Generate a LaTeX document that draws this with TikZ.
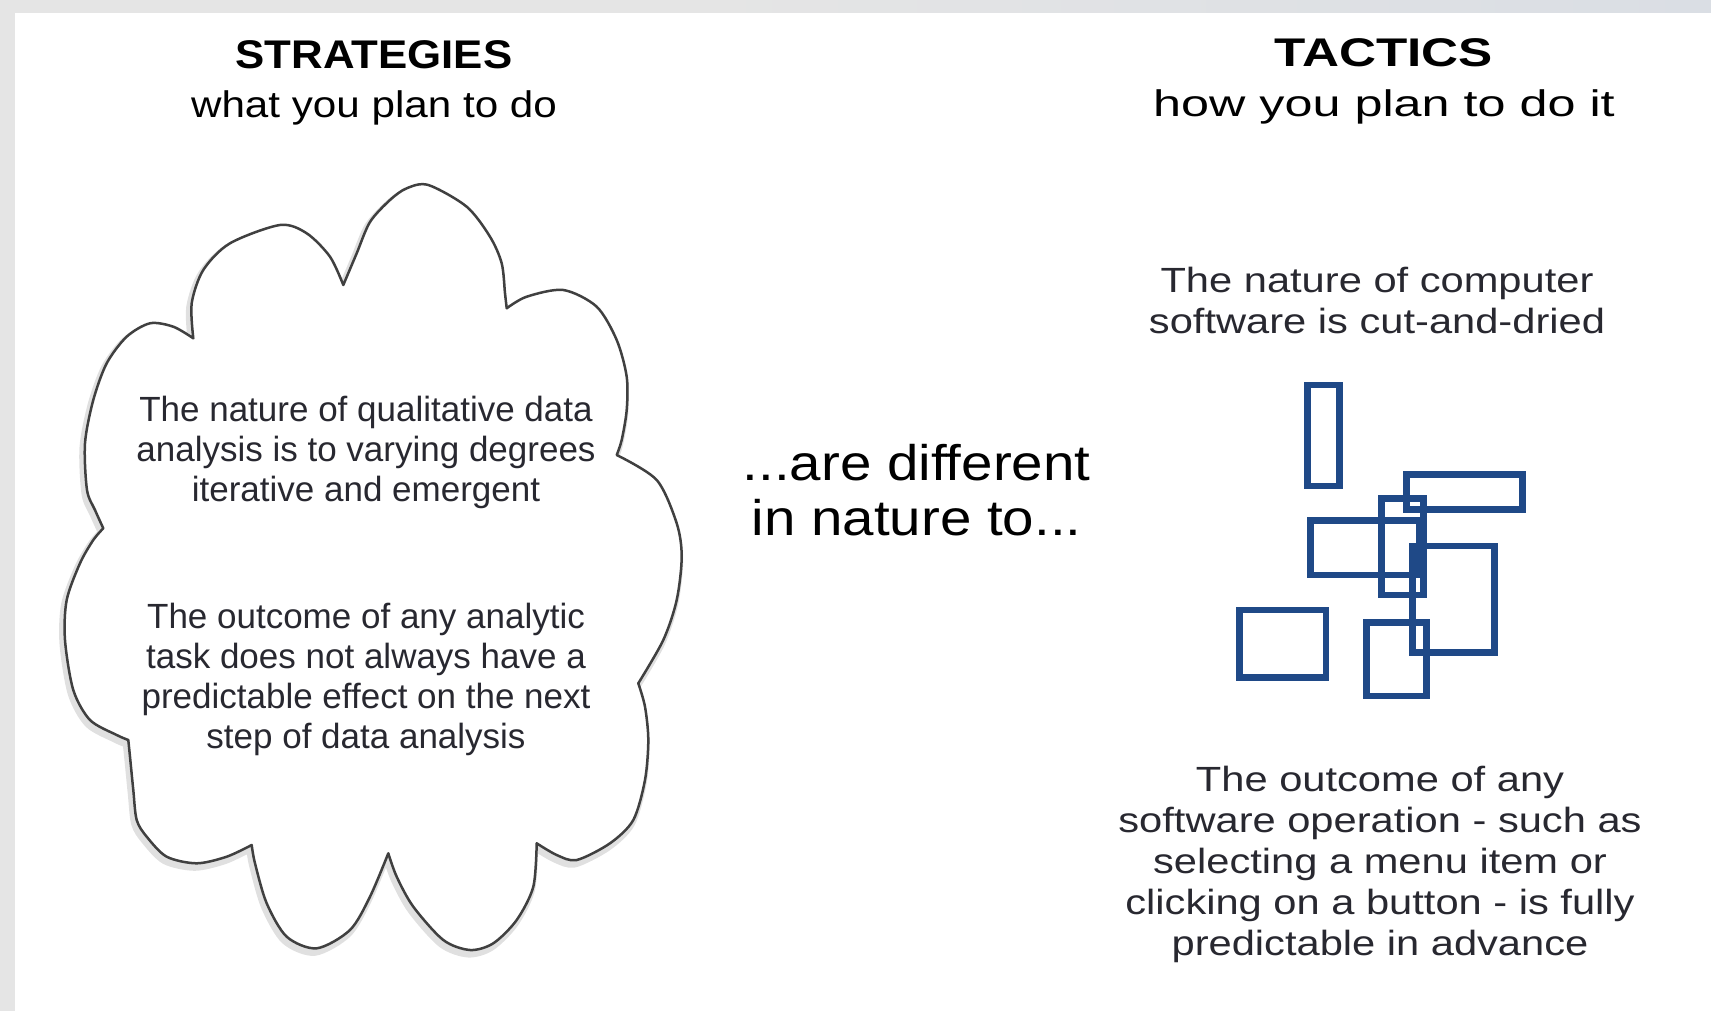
\documentclass[tikz,border=0pt]{standalone}
\usepackage{fontspec}
\setmainfont{Liberation Sans}
\usepackage{graphicx}
\definecolor{rectblue}{RGB}{31,73,135}
\definecolor{txtgray}{RGB}{40,40,48}
\definecolor{bandgray}{RGB}{229,229,229}
\definecolor{bandpeach}{RGB}{242,226,210}
\definecolor{bandblue}{RGB}{218,222,228}
\newcommand{\txtblk}[2]{\scalebox{#1}[1]{\begin{tabular}[t]{@{}c@{}}#2\end{tabular}}}
\newcommand{\cloudpath}{
  plot[smooth] coordinates {(193.3,338.3) (191.7,303.3) (203.3,270) (230,243.3) (280,225) (306.7,233.3) (330,256.7) (343.3,285)}
  -- plot[smooth] coordinates {(343.3,285) (356.7,253.3) (370,222) (390,200) (406.7,188.3) (428.3,185) (466.7,206.7) (490,236.7) (501.7,263.3) (505,293.3) (506.7,308.3)}
  -- plot[smooth] coordinates {(506.7,308.3) (526.7,296.7) (563.3,290) (596.7,306.7) (616.7,340) (626.7,376.7) (626.7,410) (621.7,440) (616.7,455)}
  -- plot[smooth] coordinates {(616.7,455) (656.7,480) (676.7,523.3) (681.7,556.7) (676.7,600) (663.3,640) (638.3,683.3)}
  -- plot[smooth] coordinates {(638.3,683.3) (645,706.7) (648.3,740) (645,780) (633.3,820) (610,843.3) (576.7,860) (556.7,855) (536.7,843.3)}
  -- plot[smooth] coordinates {(536.7,843.3) (533.3,886.7) (516.7,920) (493.3,943.3) (470,950) (443.3,940) (413.3,906.7) (396.7,876.7) (388.3,853.3)}
  -- plot[smooth] coordinates {(388.3,853.3) (370,896.7) (350,930) (316.7,948.3) (286.7,936.7) (266.7,903.3) (255,863.3) (251.7,845)}
  -- plot[smooth] coordinates {(251.7,845) (226.7,856.7) (196.7,863.3) (166.7,856.7) (146.7,836.7) (136.7,820) (133.3,790) (130,756.7) (128.3,740)}
  -- plot[smooth] coordinates {(128.3,740) (116.7,735) (90,720) (73.3,690) (65,640) (66.7,600) (80,563.3) (93.3,540) (103.3,528.3)}
  -- plot[smooth] coordinates {(103.3,528.3) (95,510) (87,490) (85,443.3) (93.3,400) (106.7,363.3) (126.7,336.7) (150,323.3) (173.3,326.7) (193.3,338.3)}
  -- cycle}
\begin{document}
\begin{tikzpicture}[x=1pt,y=-1pt,
  txt/.style={inner sep=0pt, anchor=base, text=txtgray},
  head/.style={inner sep=0pt, anchor=base, text=black, font=\fontsize{40}{46}\selectfont\bfseries},
  sub/.style={inner sep=0pt, anchor=base, text=black, font=\fontsize{37}{44}\selectfont},
  body/.style={txt, font=\fontsize{35}{40}\selectfont},
  rbody/.style={txt, font=\fontsize{35}{41}\selectfont},
  mid/.style={txt, text=black, font=\fontsize{50}{55}\selectfont},
  block/.style={draw=rectblue, line width=6.5pt},
  cloudshadow/.style={draw=black, draw opacity=0.12, line width=7pt, line join=round},
  cloudline/.style={draw=black!75, line width=2.5pt, line join=round, fill=white}]
\useasboundingbox (0,0) rectangle (1711,1011);
\fill[white] (0,0) rectangle (1711,1011);
\fill[bandgray] (0,0) rectangle (1711,13);
\shade[left color=bandgray, middle color=bandpeach, right color=bandblue] (700,0) rectangle (1711,13);
\fill[bandgray] (0,0) rectangle (15,1011);

% cloud with soft shadow
\begin{scope}[shift={(-2,4)}]
\path[cloudshadow] \cloudpath;
\end{scope}
\path[cloudline] \cloudpath;

% headings
\node[head] (strat) at (374,68.7) {\txtblk{1.095}{STRATEGIES}};
\node[sub] (stratsub) at (374,117.8) {\txtblk{1.14}{what you plan to do}};
\node[head] (tact) at (1384,66.6) {\txtblk{1.28}{TACTICS}};
\node[sub] (tactsub) at (1384,116.8) {\txtblk{1.36}{how you plan to do it}};

% cloud texts
\node[body] (cloudA) at (366,421.7) {\txtblk{1}{The nature of qualitative data\\analysis is to varying degrees\\iterative and emergent}};
\node[body] (cloudB) at (366,628.3) {\txtblk{1}{The outcome of any analytic\\task does not always have a\\predictable effect on the next\\step of data analysis}};

% middle
\node[mid] (middle) at (916.6,480) {\txtblk{1.13}{...are different\\in nature to...}};

% right texts
\node[rbody] (rightA) at (1377,292) {\txtblk{1.19}{The nature of computer\\software is cut-and-dried}};
\node[rbody] (rightB) at (1380,791) {\txtblk{1.19}{The outcome of any\\software operation - such as\\selecting a menu item or\\clicking on a button - is fully\\predictable in advance}};

% rectangles
\draw[block] (1307.3,385) rectangle (1339.3,486);
\draw[block] (1406.7,474.3) rectangle (1522.7,509.3);
\draw[block] (1381.7,498.3) rectangle (1423.3,595);
\draw[block] (1310.7,520.7) rectangle (1419.3,575);
\draw[block] (1412.7,546) rectangle (1494.3,652.7);
\draw[block] (1239.3,610) rectangle (1326,677.3);
\draw[block] (1366.7,622.3) rectangle (1426.7,696);
\end{tikzpicture}
\end{document}
